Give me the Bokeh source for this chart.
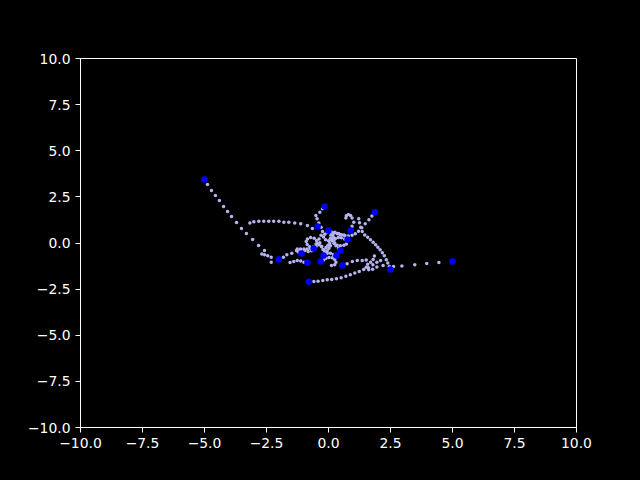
from bokeh.plotting import figure
from bokeh.models import ColumnDataSource, Range1d, FixedTicker, CustomJSTickFormatter
from bokeh.embed import file_html
from bokeh.resources import INLINE

# current positions of the bodies
body_x = [-5.0, -2.0, -0.44, -0.16, 1.87, 2.5, 5.0, -0.79,
          0.0, 0.89, 0.77, -0.6, -1.09, -0.2, 0.48, 0.32, -0.85, -0.32, 0.56]
body_y = [3.44, -0.9, 0.89, 1.98, 1.67, -1.44, -1.0, -2.10,
          0.68, 0.68, 0.19, -0.3, -0.57, -0.68, -0.41, -0.68, -1.06, -1.0, -1.22]

# trails left behind (newest first)
trail_a_x = [-4.88, -4.72, -4.56, -4.40, -4.23, -4.07, -3.91, -3.71, -3.51, -3.31,
             -3.06, -2.82, -2.58, -2.69, -2.58, -2.45, -2.31, -2.31]
trail_a_y = [3.17, 2.85, 2.57, 2.30, 1.98, 1.71, 1.44, 1.11, 0.79, 0.51,
             0.19, -0.14, -0.41, -0.59, -0.64, -0.69, -0.77, -1.04]

trail_b_x = [-1.82, -1.68, -1.48, -1.28, -1.12, -0.96, -0.82, -0.68, -0.55]
trail_b_y = [-0.77, -0.64, -0.55, -0.42, -0.36, -0.40, -0.46, -0.42, -0.33]

trail_c_x = [-0.65, -0.85, -1.12, -1.36, -1.60, -1.80, -2.00, -2.21, -2.41, -2.61, -2.81, -3.01, -3.17]
trail_c_y = [0.79, 0.95, 1.04, 1.09, 1.13, 1.13, 1.18, 1.18, 1.18, 1.18, 1.18, 1.15, 1.09]

trail_d_x = [-0.24, -0.35, -0.51, -0.46, -0.39, -0.30, -0.24, -0.30, -0.38, -0.35, -0.28]
trail_d_y = [1.85, 1.67, 1.49, 1.31, 1.09, 0.85, 0.62, 0.42, 0.22, 0.02, -0.18]

trail_e_x = [1.75, 1.63, 1.48, 1.34, 1.21, 1.08, 0.95, 0.80, 0.66, 0.52, 0.40]
trail_e_y = [1.47, 1.26, 1.04, 0.82, 0.64, 0.50, 0.42, 0.38, 0.40, 0.45, 0.50]

trail_f_x = [2.45, 2.39, 2.33, 2.25, 2.17, 2.08, 1.99, 1.90, 1.80, 1.69, 1.58, 1.46, 1.36, 1.30, 1.25, 1.22]
trail_f_y = [-1.27, -1.09, -0.91, -0.69, -0.53, -0.37, -0.23, -0.10, 0.04, 0.17, 0.31, 0.44, 0.62, 0.86, 1.10, 1.32]

trail_g_x = [4.45, 3.96, 3.48, 2.96, 2.62, 2.20, 1.95, 1.78, 1.62, 1.52, 1.58, 1.70, 1.80, 1.85]
trail_g_y = [-1.06, -1.11, -1.18, -1.24, -1.28, -1.22, -1.30, -1.42, -1.45, -1.32, -1.15, -1.05, -0.90, -0.70]

trail_h_x = [-0.59, -0.42, -0.23, -0.05, 0.13, 0.32, 0.51, 0.70, 0.88, 1.06, 1.24, 1.42, 1.61, 1.79, 1.95, 2.10]
trail_h_y = [-2.09, -2.07, -2.03, -1.99, -1.98, -1.94, -1.89, -1.80, -1.72, -1.62, -1.54, -1.44, -1.34, -1.18, -1.04, -0.95]

trail_i1_x = [0.10, 0.18, 0.20, 0.12, 0.0, -0.12, -0.20, -0.15, -0.05, 0.10, 0.26, 0.40]
trail_i1_y = [0.58, 0.45, 0.30, 0.18, 0.12, 0.18, 0.32, 0.48, 0.58, 0.62, 0.58, 0.52]

trail_i2_x = [0.95, 1.02, 0.95, 0.89, 0.80, 0.72, 0.70]
trail_i2_y = [0.91, 1.13, 1.35, 1.49, 1.55, 1.48, 1.35]

trail_i3_x = [0.65, 0.52, 0.40, 0.28, 0.22, 0.25, 0.35, 0.48, 0.62, 0.72]
trail_i3_y = [0.22, 0.28, 0.30, 0.25, 0.12, -0.02, -0.12, -0.15, -0.12, -0.05]

trail_i4_x = [-0.50, -0.45, -0.48, -0.58, -0.72, -0.85, -0.90, -0.86, -0.76]
trail_i4_y = [-0.18, -0.02, 0.14, 0.26, 0.30, 0.22, 0.08, -0.08, -0.20]

trail_i5_x = [-1.20, -1.28, -1.26, -1.13, -0.99, -0.86, -0.73, -0.62]
trail_i5_y = [-0.50, -0.40, -0.32, -0.32, -0.32, -0.32, -0.30, -0.22]

trail_i6_x = [-0.12, -0.05, 0.02, 0.08, 0.05, -0.02, -0.10, -0.18]
trail_i6_y = [-0.55, -0.42, -0.28, -0.15, 0.0, -0.12, -0.25, -0.38]

trail_i7_x = [0.40, 0.30, 0.22, 0.15, 0.08, 0.10, 0.22, 0.35, 0.48, 0.62]
trail_i7_y = [-0.28, -0.15, -0.02, 0.12, 0.26, 0.42, 0.55, 0.50, 0.46, 0.44]

trail_i8_x = [0.20, 0.08, -0.05, -0.15, -0.22, -0.28, -0.38, -0.50]
trail_i8_y = [-0.62, -0.55, -0.55, -0.48, -0.35, -0.20, -0.10, -0.05]

trail_i9_x = [-0.99, -1.12, -1.26, -1.40, -1.55]
trail_i9_y = [-1.04, -0.98, -0.95, -1.00, -1.06]

trail_i10_x = [-0.20, -0.10, 0.02, 0.15, 0.25, 0.30, 0.25, 0.12]
trail_i10_y = [-0.92, -0.82, -0.78, -0.80, -0.90, -1.05, -1.18, -1.22]

trail_i11_x = [0.75, 0.96, 1.16, 1.36, 1.52]
trail_i11_y = [-1.13, -1.00, -0.95, -0.95, -0.92]

axis_ticks = [-10, -7.5, -5, -2.5, 0, 2.5, 5, 7.5, 10]

trails_x = [trail_a_x, trail_b_x, trail_c_x, trail_d_x, trail_e_x, trail_f_x, trail_g_x,
            trail_h_x, trail_i1_x, trail_i2_x, trail_i3_x, trail_i4_x, trail_i5_x,
            trail_i6_x, trail_i7_x, trail_i8_x, trail_i9_x, trail_i10_x, trail_i11_x]
trails_y = [trail_a_y, trail_b_y, trail_c_y, trail_d_y, trail_e_y, trail_f_y, trail_g_y,
            trail_h_y, trail_i1_y, trail_i2_y, trail_i3_y, trail_i4_y, trail_i5_y,
            trail_i6_y, trail_i7_y, trail_i8_y, trail_i9_y, trail_i10_y, trail_i11_y]

trail_src = ColumnDataSource(data=dict(
    x=[v for t in trails_x for v in t],
    y=[v for t in trails_y for v in t],
))
body_src = ColumnDataSource(data=dict(x=body_x, y=body_y))

p = figure(
    frame_width=496,
    frame_height=369,
    min_border_left=80,
    min_border_right=64,
    min_border_top=58,
    min_border_bottom=53,
    x_range=Range1d(-10, 10),
    y_range=Range1d(-10, 10),
    output_backend="svg",
    toolbar_location=None,
    background_fill_color="black",
    border_fill_color="black",
)

p.scatter("x", "y", source=trail_src, size=3.5, fill_color="#b4b4f0", line_color=None)
p.scatter("x", "y", source=body_src, size=6.5, fill_color="#0000ff", line_color=None)

fmt = CustomJSTickFormatter(code="return (tick < 0 ? '\\u2212' : '') + Math.abs(tick).toFixed(1);")
for ax in (p.xaxis[0], p.yaxis[0]):
    ax.ticker = FixedTicker(ticks=axis_ticks)
    ax.formatter = fmt
    ax.axis_line_color = "white"
    ax.major_tick_line_color = "white"
    ax.minor_tick_line_color = None
    ax.major_tick_out = 5
    ax.major_tick_in = 0
    ax.major_label_standoff = 5
    ax.major_label_text_color = "white"
    ax.major_label_text_font = "DejaVu Sans"
    ax.major_label_text_font_size = "13.9px"

p.grid.grid_line_color = None
p.outline_line_color = "white"
p.outline_line_alpha = 1.0

html = file_html(p, INLINE)
html = html.replace("</head>", "<style>html, body { background-color: #000000; }</style></head>", 1)
open("out.html", "w").write(html)
